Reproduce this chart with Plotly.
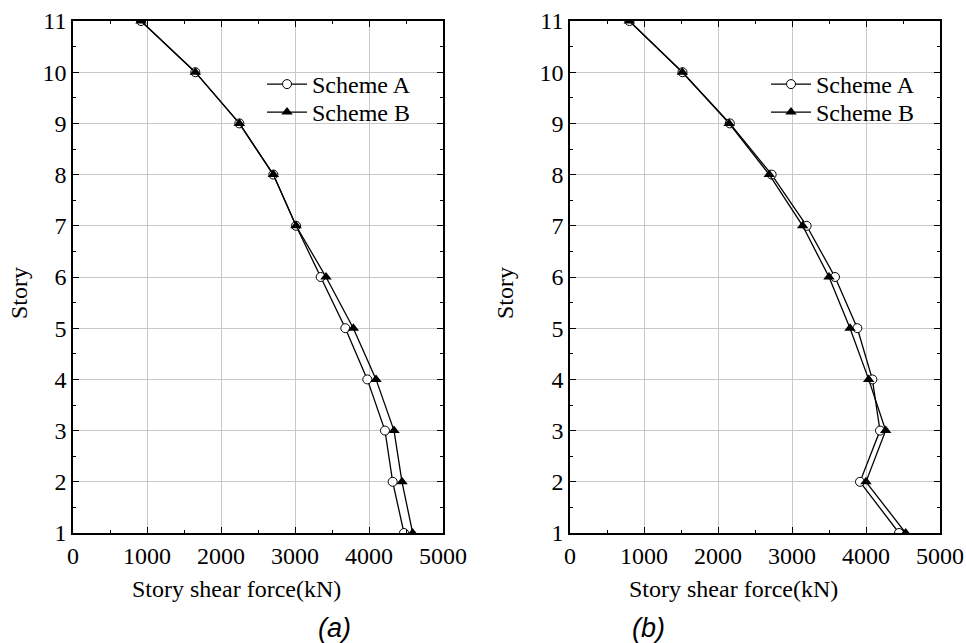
import plotly.graph_objects as go

stories = [1, 2, 3, 4, 5, 6, 7, 8, 9, 10, 11]
# Panel (a)
a_scheme_A = [4473, 4320, 4216, 3977, 3680, 3347, 3014, 2707, 2248, 1653, 919]
a_scheme_B = [4590, 4446, 4338, 4095, 3788, 3419, 3014, 2707, 2248, 1653, 919]
# Panel (b)
b_scheme_A = [4446, 3919, 4189, 4086, 3883, 3581, 3198, 2725, 2160, 1520, 802]
b_scheme_B = [4536, 4000, 4266, 4036, 3784, 3500, 3144, 2693, 2150, 1518, 802]

series_names = ["Scheme A", "Scheme B"]
x_title = "Story shear force(kN)"
y_title = "Story"
panel_labels = ["(a)", "(b)"]

W, H = 966, 643
serif = "Liberation Serif, Times New Roman, serif"
FS = 24

fig = go.Figure()

def add_pair(xa, xb, xref, yref, legA, legB):
    fig.add_trace(go.Scatter(
        x=xa, y=stories, xaxis=xref, yaxis=yref, name=series_names[0], legend=legA,
        mode="lines+markers",
        line=dict(color="black", width=1.3),
        marker=dict(symbol="circle", size=9, color="white", line=dict(color="black", width=1)),
    ))
    fig.add_trace(go.Scatter(
        x=xb, y=stories, xaxis=xref, yaxis=yref, name=series_names[1], legend=legB,
        mode="lines+markers",
        line=dict(color="black", width=1.3),
        marker=dict(symbol="triangle-up", size=10, color="black", line=dict(color="black", width=0)),
    ))

add_pair(a_scheme_A, a_scheme_B, "x", "y", "legend", "legend2")
add_pair(b_scheme_A, b_scheme_B, "x2", "y2", "legend3", "legend4")

def xaxis_cfg(domain, anchor):
    return dict(
        domain=domain, anchor=anchor, range=[0, 5000], tick0=0, dtick=1000,
        showgrid=True, gridcolor="#c8c8c8", gridwidth=1,
        showline=True, linecolor="black", linewidth=1.5, mirror="allticks",
        ticks="inside", ticklen=6, tickwidth=1, tickcolor="black",
        minor=dict(dtick=500, ticks="inside", ticklen=3, tickcolor="black", showgrid=False),
        tickfont=dict(family=serif, size=FS, color="black"),
        zeroline=False, automargin=False, fixedrange=True,
    )

def yaxis_cfg(domain, anchor):
    return dict(
        domain=domain, anchor=anchor, range=[1, 11], tick0=1, dtick=1,
        showgrid=True, gridcolor="#c8c8c8", gridwidth=1,
        showline=True, linecolor="black", linewidth=1.5, mirror="allticks",
        ticks="inside", ticklen=6, tickwidth=1, tickcolor="black",
        minor=dict(dtick=0.5, ticks="inside", ticklen=3, tickcolor="black", showgrid=False),
        tickfont=dict(family=serif, size=FS, color="black"),
        zeroline=False, automargin=False, fixedrange=True,
    )

ydom = [110 / H, 622 / H]
xdom1 = [73 / W, 443 / W]
xdom2 = [570 / W, 940 / W]

legend_common = dict(
    bgcolor="rgba(0,0,0,0)", borderwidth=0,
    font=dict(family=serif, size=FS, color="black"),
    xanchor="left", yanchor="top", tracegroupgap=0, itemwidth=40,
)

def ann(text, x, y, font, angle=0):
    return dict(text=text, x=x / W, y=1 - y / H, xref="paper", yref="paper",
                xanchor="center", yanchor="middle", textangle=angle,
                showarrow=False, font=font)

tfont = dict(family=serif, size=FS, color="black")
pfont = dict(family="Liberation Sans, Arial, sans-serif", size=27, color="black", style="italic")

annotations = [
    ann(x_title, 236, 589, tfont),
    ann(x_title, 733, 589, tfont),
    ann(y_title, 19, 293, tfont, -90),
    ann(y_title, 505, 293, tfont, -90),
    ann(panel_labels[0], 334, 628, pfont),
    ann(panel_labels[1], 648, 628, pfont),
]

fig.update_layout(
    width=W, height=H,
    margin=dict(l=0, r=0, t=0, b=0),
    paper_bgcolor="white", plot_bgcolor="white",
    xaxis=xaxis_cfg(xdom1, "y"), yaxis=yaxis_cfg(ydom, "x"),
    xaxis2=xaxis_cfg(xdom2, "y2"), yaxis2=yaxis_cfg(ydom, "x2"),
    legend=dict(x=262 / W, y=1 - 62 / H, **legend_common),
    legend2=dict(x=262 / W, y=1 - 90 / H, **legend_common),
    legend3=dict(x=766 / W, y=1 - 62 / H, **legend_common),
    legend4=dict(x=766 / W, y=1 - 90 / H, **legend_common),
    annotations=annotations,
    showlegend=True,
)

fig.write_html("out.html")
